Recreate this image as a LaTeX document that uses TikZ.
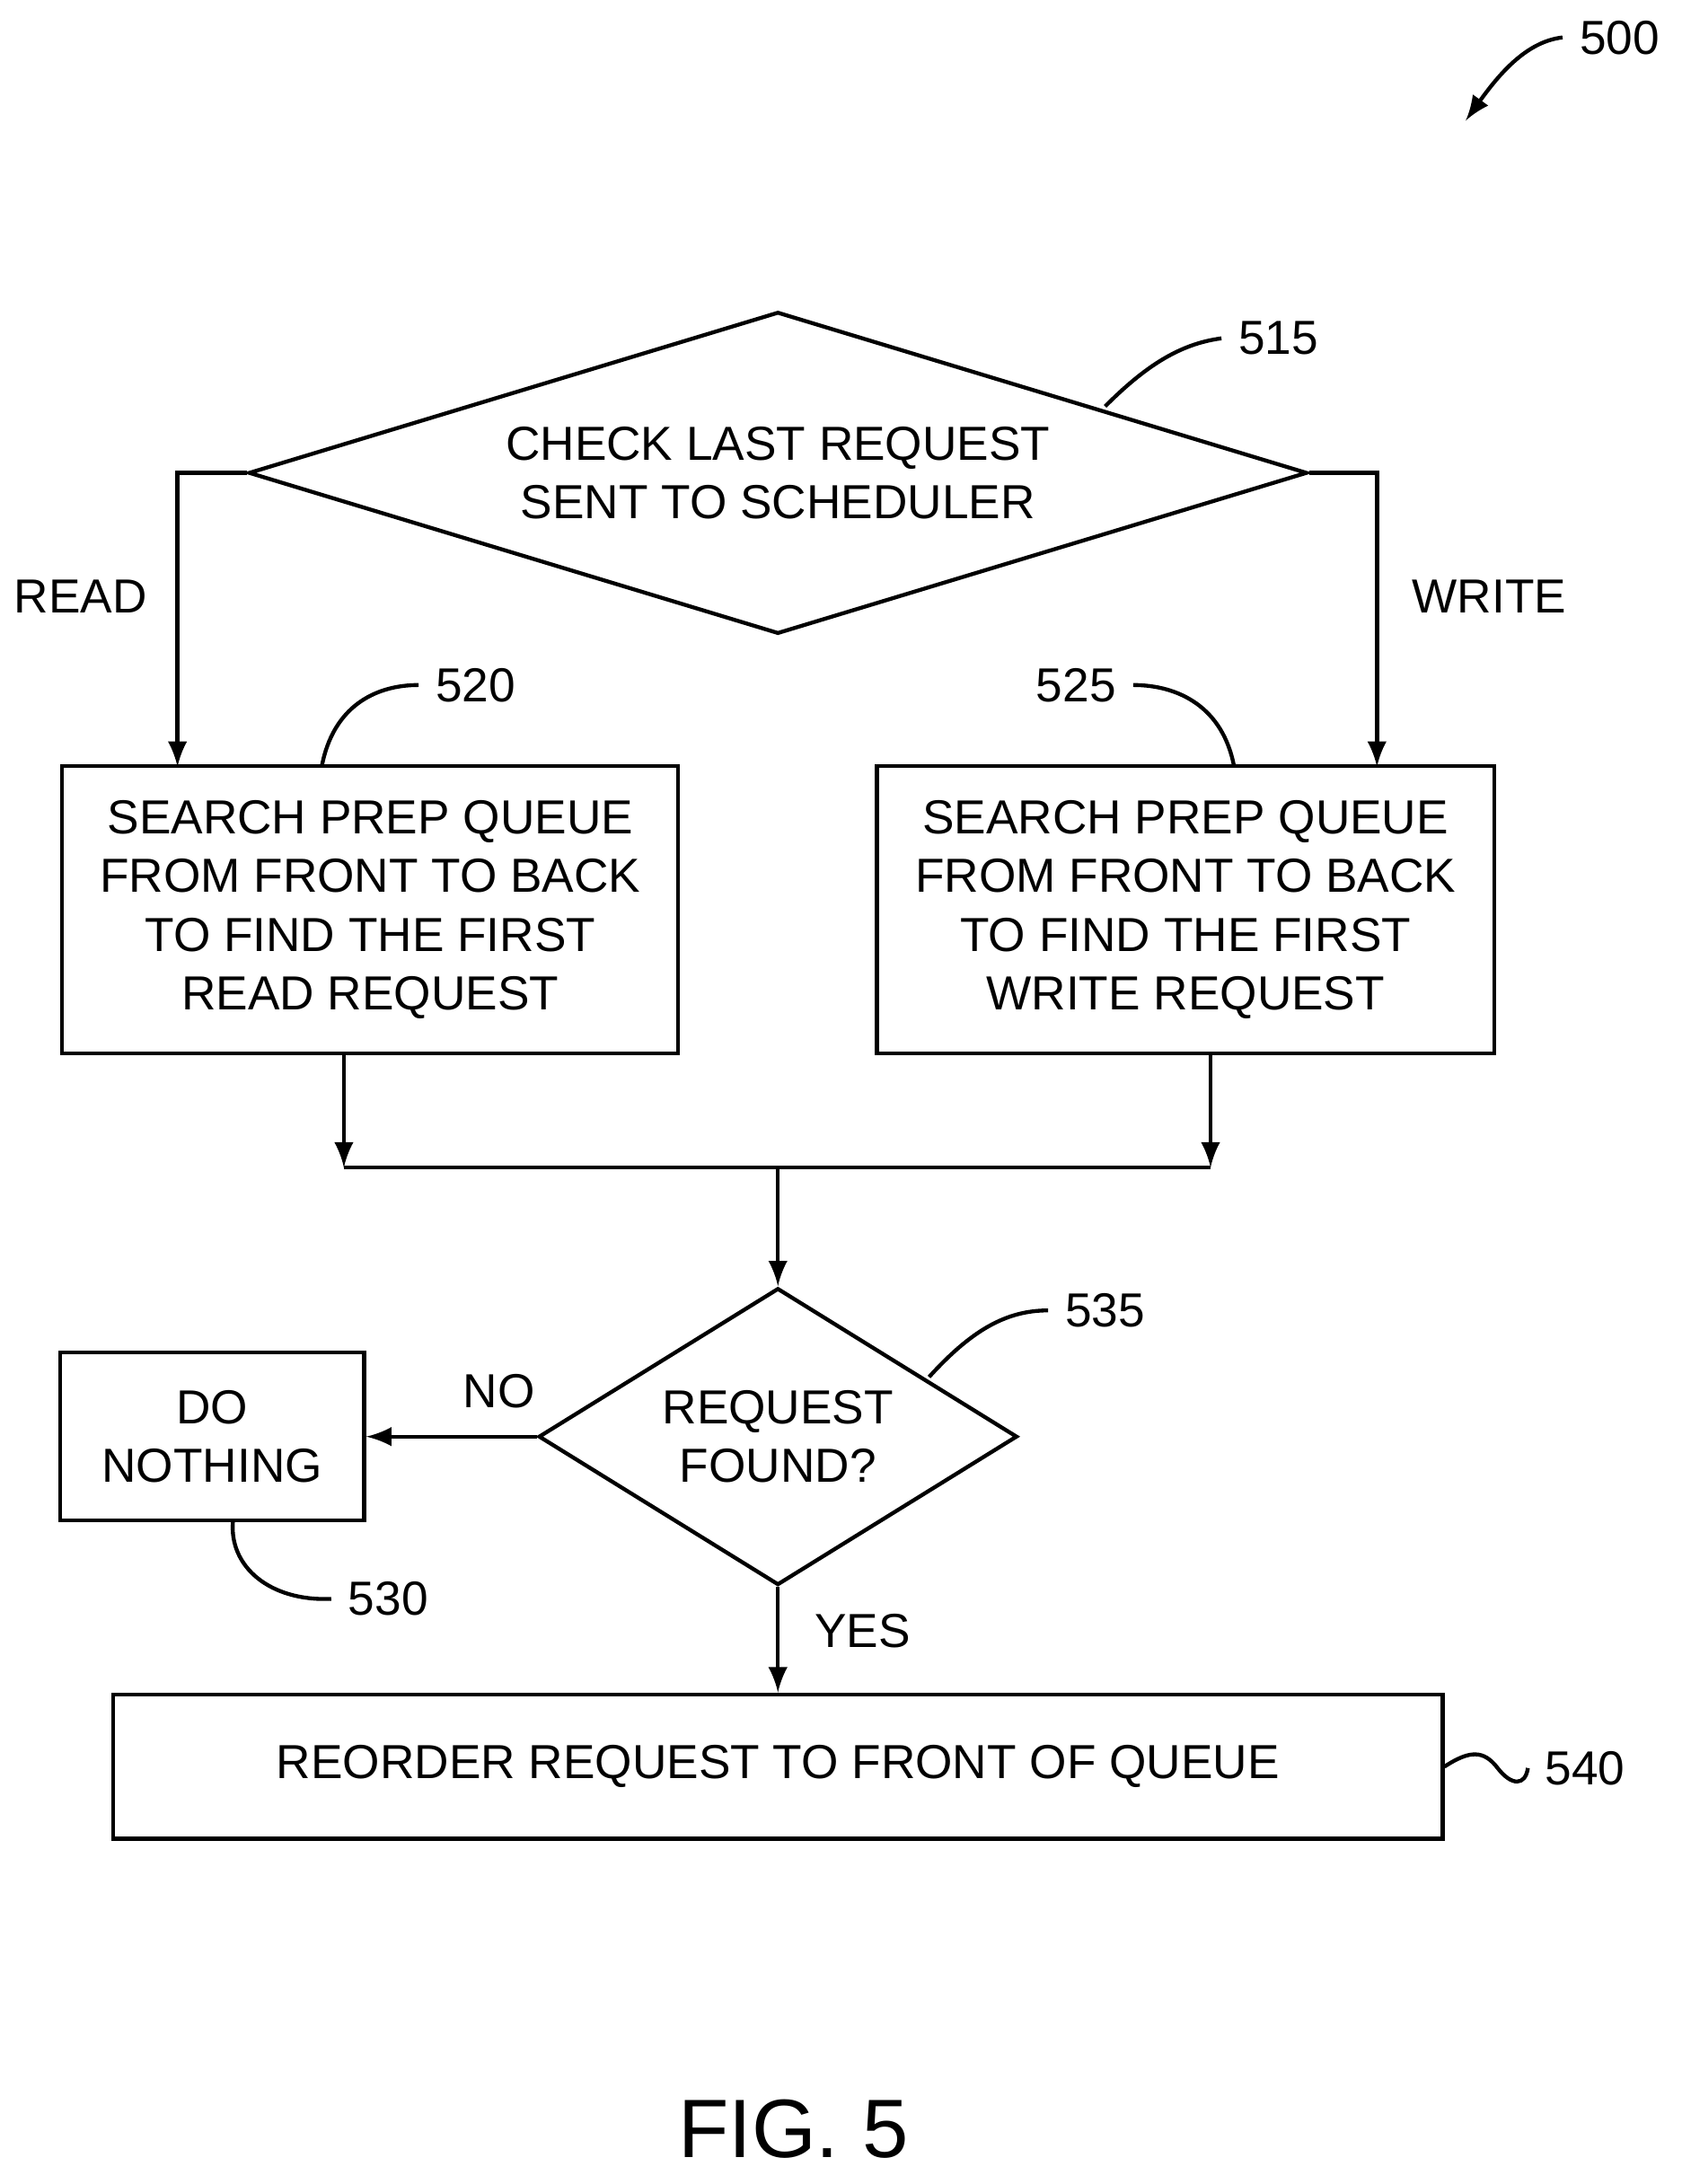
\documentclass[tikz,border=0pt]{standalone}
\usepackage{fontspec}
\setmainfont{Liberation Sans}
\usetikzlibrary{shapes.geometric, arrows, positioning}
\tikzset{
	box/.style={draw, thick, inner sep=0pt, align=center, font=\fontsize{9.8}{12}\selectfont},
	dia/.style={draw, thick, diamond, inner sep=0pt},
	txt/.style={align=center, font=\fontsize{9.8}{12}\selectfont},
	arrow/.style={thick, ->, >=latex},
	lead/.style={thick}
}
\begin{document}
\begin{tikzpicture}[x=0.01cm, y=-0.01cm]
    \useasboundingbox (0,0) rectangle (1213,1575);
    % decisions
    \node[dia, minimum width=7.63cm, minimum height=2.32cm] (check) at (561,341) {};
    \node[txt] at (check) {CHECK LAST REQUEST\\SENT TO SCHEDULER};
    \node[dia, minimum width=3.45cm, minimum height=2.14cm] (found) at (561,1036) {};
    \node[txt] at (found) {REQUEST\\FOUND?};
    % process boxes
    \node[box, minimum width=4.44cm, minimum height=2.07cm] (readq) at (267,656) {SEARCH PREP QUEUE\\FROM FRONT TO BACK\\TO FIND THE FIRST\\READ REQUEST};
    \node[box, minimum width=4.45cm, minimum height=2.07cm] (writeq) at (855,656) {SEARCH PREP QUEUE\\FROM FRONT TO BACK\\TO FIND THE FIRST\\WRITE REQUEST};
    \node[box, minimum width=2.19cm, minimum height=1.21cm] (nothing) at (153,1036) {DO\\NOTHING};
    \node[box, minimum width=9.58cm, minimum height=1.04cm] (reorder) at (561,1274) {REORDER REQUEST TO FRONT OF QUEUE};
    % connectors
    \coordinate (mergeL) at (248,842);
    \coordinate (mergeR) at (873,842);
    \coordinate (mergeC) at (561,842);
    \draw[arrow] (check.west) -| (128,553);
    \draw[arrow] (check.east) -| (993,553);
    \draw[arrow] (readq.south -| mergeL) -- (mergeL);
    \draw[arrow] (writeq.south -| mergeR) -- (mergeR);
    \draw[thick] (mergeL) -- (mergeR);
    \draw[arrow] (mergeC) -- (found.north);
    \draw[arrow] (found.west) -- (nothing.east);
    \draw[arrow] (found.south) -- (reorder.north);
    \node[txt] at (58,430) {READ};
    \node[txt] at (1074,430) {WRITE};
    \node[txt] at (360,1003) {NO};
    \node[txt] at (622,1176) {YES};
    % reference numerals
    \node[txt] (n515) at (922,244) {515};
    \node[txt] (n520) at (343,494) {520};
    \node[txt] (n525) at (776,494) {525};
    \node[txt] (n535) at (797,945) {535};
    \node[txt] (n530) at (280,1153) {530};
    \node[txt] (n540) at (1143,1275) {540};
    \node[txt] (n500) at (1168,27) {500};
    \draw[lead] (797,293) .. controls (825,265) and (850,248) .. (n515.west);
    \draw[lead] (232,553) .. controls (240,510) and (270,494) .. (n520.west);
    \draw[lead] (890,553) .. controls (882,510) and (850,494) .. (n525.east);
    \draw[lead] (670,993) .. controls (700,960) and (725,945) .. (n535.west);
    \draw[lead] (168,1097) .. controls (165,1130) and (195,1155) .. (n530.west);
    \draw[lead] (reorder.east) .. controls (1060,1262) and (1070,1262) .. (1080,1275)
        .. controls (1090,1288) and (1100,1288) .. (n540.west);
    \draw[arrow] (n500.west) .. controls (1100,30) and (1080,55) .. (1057,87);
    \node[font=\fontsize{17}{20}\selectfont] (fig) at (572,1535) {FIG. 5};
\end{tikzpicture}
\end{document}
